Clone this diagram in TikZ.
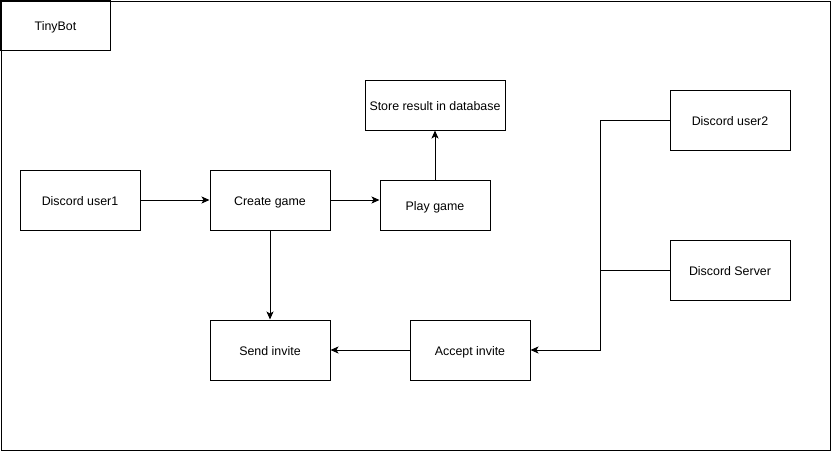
\documentclass[tikz,border=0pt]{standalone}
\usepackage{fontspec}
\setmainfont{Liberation Sans}
\usetikzlibrary{arrows.meta}
\begin{document}
\begin{tikzpicture}[x=1pt,y=-1pt,
  box/.style={draw,line width=1pt,minimum width=120pt,minimum height=60pt,inner sep=0pt,font=\fontsize{12.4}{14}\selectfont,text height=1.9ex,text depth=0ex},
  arr/.style={line width=1pt,-{Stealth[length=8pt,width=7pt,inset=2pt]}},
  ln/.style={line width=1pt}]
\useasboundingbox (0,0) rectangle (831,451);
\node[draw,line width=1pt,minimum width=829pt,minimum height=449pt,inner sep=0pt] (frame) at (415.5,225.5) {};
\node[box,minimum width=110pt,minimum height=50pt] (title) at (55.5,25.5) {TinyBot};
\node[box] (u1) at (80,200) {Discord user1};
\node[box] (cg) at (270,200) {Create game};
\node[box,minimum width=110pt,minimum height=50pt] (pg) at (435,205) {Play game};
\node[box,minimum width=140pt,minimum height=50pt] (st) at (435,105) {Store result in database};
\node[box] (u2) at (730,120) {Discord user2};
\node[box] (srv) at (730,270) {Discord Server};
\node[box] (si) at (270,350) {Send invite};
\node[box] (ai) at (470,350) {Accept invite};
\coordinate (j) at (600,350);
\draw[arr] (u1) -- (cg);
\draw[arr] (cg.east) -- (cg.east -| pg.west);
\draw[arr] (pg) -- (st);
\draw[arr] (cg) -- (si);
\draw[arr] (ai) -- (si);
\draw[arr] (u2.west) -| (j) -- (ai.east);
\draw[ln] (srv.west) -- (srv.west -| j);
\end{tikzpicture}
\end{document}
